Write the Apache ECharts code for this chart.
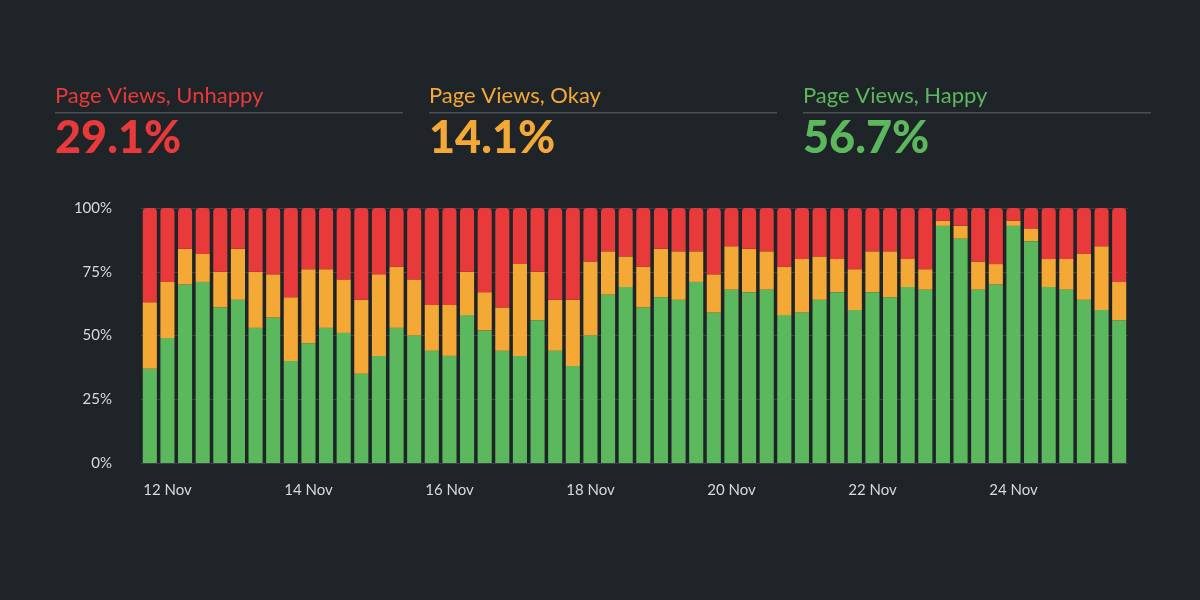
<!DOCTYPE html>
<html><head><meta charset="utf-8">
<script src="https://cdn.jsdelivr.net/npm/echarts@6/dist/echarts.min.js"></script>
<style>html,body{margin:0;background:#1f2428;}#c{width:1200px;height:600px;}</style>
</head><body><div id="c"></div>
<script>
const happy = [37,49,70,71,61,64,53,57,40,47,53,51,35,42,53,50,44,42,58,52,44,42,56,44,38,50,66,69,61,65,64,71,59,68,67,68,58,59,64,67,60,67,65,69,68,93,88,68,70,93,87,69,68,64,60,56];
const okayTop = [63,71,84,82,75,84,75,74,65,76,76,72,64,74,77,72,62,62,75,67,61,78,75,64,64,79,83,81,77,84,83,83,74,85,84,83,77,80,81,80,76,83,83,80,76,95,93,79,78,95,92,80,80,82,85,71];
const days = ['12 Nov','13 Nov','14 Nov','15 Nov','16 Nov','17 Nov','18 Nov','19 Nov','20 Nov','21 Nov','22 Nov','23 Nov','24 Nov','25 Nov'];
const yTicks = ['0%','25%','50%','75%','100%'];
const headers = [['Page Views, Unhappy','29.1%','#e8393b'],['Page Views, Okay','14.1%','#f4a836'],['Page Views, Happy','56.7%','#5cb85c']];

const categories = [];
days.forEach(d => { for (let i = 0; i < 4; i++) categories.push(d + ' ' + i); });
const okay = okayTop.map((t, i) => t - happy[i]);
const unhappy = okayTop.map(t => 100 - t);

const graphic = [];
headers.forEach((h, i) => {
  const x = 55 + i * 374;
  graphic.push({type:'text', left:x, top:85, style:{text:h[0], fill:h[2], font:'22px Lato'}});
  graphic.push({type:'rect', shape:{x:x, y:112, width:348, height:1.5}, style:{fill:'#4a4f54'}});
  graphic.push({type:'text', left:x, top:116, style:{text:h[1], fill:h[2], font:'900 45px Lato'}});
});

const chart = echarts.init(document.getElementById('c'));
const barStyle = {barWidth:'80%', stack:'a'};
chart.setOption({
  backgroundColor:'#1f2428',
  animation:false,
  graphic,
  grid:{left:141, right:72, top:208, bottom:137},
  xAxis:{type:'category', data:categories,
    axisLine:{show:false}, axisTick:{show:false},
    axisLabel:{color:'#d8dadc', fontSize:15, fontFamily:'Lato', margin:20,
      interval:(idx)=> idx % 8 === 1,
      formatter:(v)=> v.split(' ').slice(0,2).join(' ')}},
  yAxis:{type:'value', min:0, max:100, interval:25,
    axisLabel:{color:'#d8dadc', fontSize:15, fontFamily:'Lato', margin:29,
      formatter:(v)=> yTicks[v/25]},
    splitLine:{lineStyle:{color:'#3c4146', width:1}}},
  series:[
    Object.assign({type:'bar', name:'Happy', data:happy, itemStyle:{color:'#5cb85c'}}, barStyle),
    Object.assign({type:'bar', name:'Okay', data:okay, itemStyle:{color:'#f4a836'}}, barStyle),
    Object.assign({type:'bar', name:'Unhappy', data:unhappy, itemStyle:{color:'#e8393b', borderRadius:[4,4,0,0]}}, barStyle)
  ]
});
</script></body></html>
